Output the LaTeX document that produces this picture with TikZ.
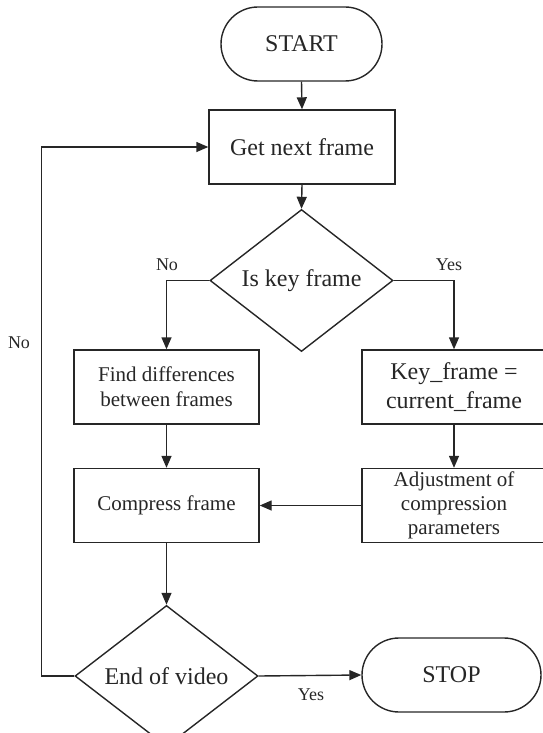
\documentclass[tikz,border=0pt]{standalone}
\usepackage{fontspec}
\setmainfont{Liberation Serif}
\usetikzlibrary{shapes.geometric,arrows.meta}

\begin{document}
\begin{tikzpicture}[x=1pt,y=-1pt,
  every node/.style={text=black!85},
  line/.style={draw=black!85, line width=1.4pt},
  arr/.style={line, -{Triangle[length=12pt,width=10pt]}},
  proc/.style={draw=black!85, line width=1.4pt, rectangle, minimum height=74pt, inner sep=0pt, align=center},
  term/.style={proc, rounded corners=37pt, minimum width=161pt},
  decision/.style={draw=black!85, line width=1.4pt, diamond, inner sep=0pt, minimum width=183pt},
  big/.style={font=\fontsize{24}{29}\selectfont},
  small/.style={font=\fontsize{21}{25}\selectfont},
  tag/.style={font=\fontsize{18}{20}\selectfont}]
\useasboundingbox (0,0) rectangle (542,733);

% terminals
\node[term, big] (start) at (301.5,44) {START};
\node[term, big, minimum width=179pt] (stop) at (451.5,675) {STOP};

% process boxes
\node[proc, big, minimum width=186pt] (getnext) at (302,147) {Get next frame};
\node[proc, small, minimum width=185pt] (finddiff) at (166.5,387) {Find differences\\between frames};
\node[proc, big, minimum width=184pt] (keyframe) at (454,387) {Key\_frame =\\current\_frame};
\node[proc, small, minimum width=185pt] (compress) at (166.5,505.5) {Compress frame};
\node[proc, small, minimum width=184pt, align=center] (adjust) at (454,505.5) {Adjustment of\\[-1pt]compression\\[-1pt]parameters};

% decisions
\node[decision, big, minimum height=131pt] (iskey) at (301.5,280.5) {Is key frame};
\node[decision, big, minimum height=110pt] (endvid) at (166.5,676) {End of video};

% branch labels
\node[tag] (keyno) at (167,265) {No};
\node[tag] (keyyes) at (449,265) {Yes};
\node[tag] (endno) at (19,343) {No};
\node[tag] (endyes) at (311,695) {Yes};

% connectors
\draw[arr] (start.south) -- (getnext.north);
\draw[arr] (getnext.south) -- (iskey.north);
\draw[arr] (iskey.west) -| (finddiff.north);
\draw[arr] (iskey.east) -| (keyframe.north);
\draw[arr] (finddiff.south) -- (compress.north);
\draw[arr] (keyframe.south) -- (adjust.north);
\draw[arr] (adjust.west) -- (compress.east);
\draw[arr] (compress.south) -- (endvid.north);
\draw[arr] (endvid.east) -- (stop.west);

% loop back
\coordinate (noturn) at (41.5,676);
\draw[arr] (endvid.west) -- (noturn) |- (getnext.west);

\end{tikzpicture}
\end{document}
